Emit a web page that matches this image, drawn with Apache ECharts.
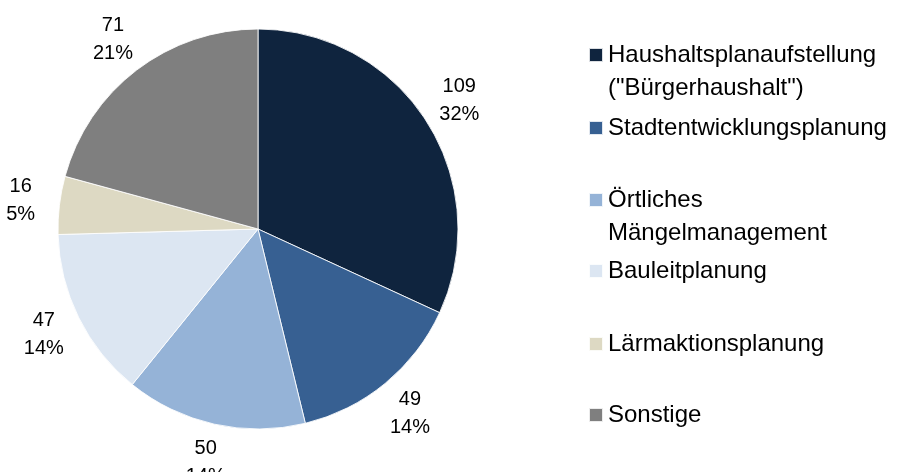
<!DOCTYPE html>
<html>
<head>
<meta charset="utf-8">
<script src="https://cdn.jsdelivr.net/npm/echarts@6/dist/echarts.min.js"></script>
<style>
  html, body { margin: 0; padding: 0; background: #fff; }
  #chart { width: 899px; height: 472px; }
</style>
</head>
<body>
<div id="chart"></div>
<script>
// === DATA ===
const categories = [
    'Haushaltsplanaufstellung ("Bürgerhaushalt")',
    'Stadtentwicklungsplanung',
    'Örtliches Mängelmanagement',
    'Bauleitplanung',
    'Lärmaktionsplanung',
    'Sonstige'
];
const legendLines = [
    ['Haushaltsplanaufstellung', '("Bürgerhaushalt")'],
    ['Stadtentwicklungsplanung'],
    ['Örtliches', 'Mängelmanagement'],
    ['Bauleitplanung'],
    ['Lärmaktionsplanung'],
    ['Sonstige']
];
const values = [109, 49, 50, 47, 16, 71];
const percentLabels = ['32%', '14%', '14%', '14%', '5%', '21%'];
const colors = ['#0f243e', '#376092', '#95b3d7', '#dce6f2', '#ddd9c3', '#7f7f7f'];

// === LAYOUT ===
const center = [258, 229];
const legendTops = [0.5, 73.5, 145.5, 216.5, 289.5, 360.5];
const font = 'Liberation Sans, Arial, sans-serif';

// === CHART ===
const chart = echarts.init(document.getElementById('chart'));

const pieData = categories.map((name, i) => ({ name: name, value: values[i] }));

// icon sits on the first text line: pad every entry to three lines
function legendText(name) {
    const lines = legendLines[categories.indexOf(name)];
    const padded = [''].concat(lines);
    if (padded.length < 3) padded.push('');
    return padded.join('\n');
}

const legends = categories.map((name, i) => ({
    data: [name],
    left: 583,
    top: legendTops[i],
    icon: 'rect',
    itemWidth: 14,
    itemHeight: 14,
    selectedMode: false,
    formatter: legendText,
    textStyle: { fontFamily: font, fontSize: 24, lineHeight: 33, color: '#000' }
}));

chart.setOption({
    animation: false,
    backgroundColor: '#fff',
    color: colors,
    legend: legends,
    series: [
        {
            type: 'pie',
            center: center,
            radius: [0, 200],
            startAngle: 90,
            clockwise: true,
            data: pieData,
            label: { show: false },
            labelLine: { show: false },
            itemStyle: { borderColor: 'rgba(255,255,255,0.85)', borderWidth: 1 },
            emphasis: { disabled: true }
        },
        {
            // transparent ring that only carries the value labels
            type: 'pie',
            center: center,
            radius: [200, 272],
            startAngle: 90,
            clockwise: true,
            silent: true,
            data: pieData,
            itemStyle: { color: 'rgba(0,0,0,0)' },
            label: {
                show: true,
                position: 'inside',
                fontFamily: font,
                fontSize: 20,
                lineHeight: 28,
                color: '#000',
                align: 'center',
                formatter: p => p.value + '\n' + percentLabels[p.dataIndex]
            },
            labelLine: { show: false },
            emphasis: { disabled: true }
        }
    ]
});
</script>
</body>
</html>
